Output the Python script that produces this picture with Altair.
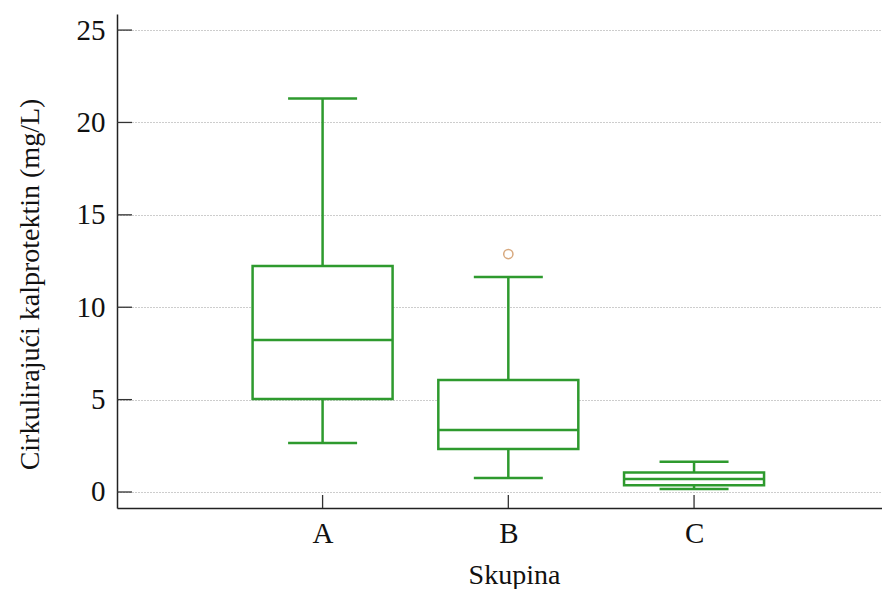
import altair as alt
import pandas as pd

groups = ["A", "B", "C"]
pos = [1, 2, 3]
lower = [2.65, 0.76, 0.16]
q1 = [5.03, 2.33, 0.36]
median = [8.22, 3.35, 0.70]
q3 = [12.23, 6.06, 1.05]
upper = [21.3, 11.63, 1.64]
outlier_group = ["B"]
outlier_pos = [2]
outlier_val = [12.88]
y_ticks = [0, 5, 10, 15, 20, 25]

GREEN = "#2e9a2e"
FONT = "Liberation Serif"
W, H = 765, 494

df = pd.DataFrame({"g": groups, "pos": pos, "lower": lower, "q1": q1,
                   "median": median, "q3": q3, "upper": upper})
out_df = pd.DataFrame({"g": outlier_group, "pos": outlier_pos, "v": outlier_val})
yt_df = pd.DataFrame({"t": y_ticks})

xscale = alt.Scale(domain=[-0.08, 3.985], nice=False, zero=False)
yscale = alt.Scale(domain=[-0.866, 25.87], nice=False, zero=False)

xaxis = alt.Axis(values=pos, labelExpr="datum.value == 1 ? 'A' : datum.value == 2 ? 'B' : 'C'",
                 grid=False, ticks=False, title="Skupina", labelPadding=11, titlePadding=13,
                 titleX=397)
yaxis = alt.Axis(values=y_ticks, grid=True, gridDash=[1, 2], gridColor="#9a9a9a",
                 gridWidth=1, ticks=False, title="Cirkulirajući kalprotektin (mg/L)",
                 labelPadding=12, titlePadding=32, titleY=270)

base = alt.Chart(df)

x_enc = alt.X("pos:Q", scale=xscale, axis=xaxis)

whisk_lo = base.mark_rule(color=GREEN, strokeWidth=2.5).encode(
    x=x_enc, y=alt.Y("lower:Q", scale=yscale, axis=yaxis), y2="q1:Q")
whisk_hi = base.mark_rule(color=GREEN, strokeWidth=2.5).encode(
    x="pos:Q", y="q3:Q", y2="upper:Q")
box = base.mark_bar(size=140, fill="white", stroke=GREEN, strokeWidth=2.5).encode(
    x="pos:Q", y="q1:Q", y2="q3:Q")
med = base.mark_tick(orient="horizontal", size=140, thickness=2.5, color=GREEN, opacity=1).encode(
    x="pos:Q", y="median:Q")
cap_lo = base.mark_tick(orient="horizontal", size=69, thickness=2.5, color=GREEN, opacity=1).encode(
    x="pos:Q", y="lower:Q")
cap_hi = base.mark_tick(orient="horizontal", size=69, thickness=2.5, color=GREEN, opacity=1).encode(
    x="pos:Q", y="upper:Q")
outl = alt.Chart(out_df).mark_point(shape="circle", size=85, filled=False,
                                    stroke="#c8864a", strokeWidth=1.5).encode(
    x="pos:Q", y="v:Q")
ytick = alt.Chart(yt_df).mark_rule(color="#333333", strokeWidth=1.3).encode(
    y="t:Q", x=alt.value(0), x2=alt.value(15))
xtick = alt.Chart(df).mark_rule(color="#333333", strokeWidth=1.3).encode(
    x="pos:Q", y=alt.value(H), y2=alt.value(H - 13))

chart = alt.layer(whisk_lo, whisk_hi, box, med, cap_lo, cap_hi, outl, ytick, xtick).properties(
    width=W, height=H,
    autosize=alt.AutoSizeParams(type="none"),
    padding={"left": 109, "top": 6, "right": 0, "bottom": 81},
).configure_view(stroke=None).configure_axis(
    domainColor="#222222", domainWidth=1.5,
    labelFont=FONT, titleFont=FONT, labelFontSize=29, titleFontSize=28,
    labelColor="#111111", titleColor="#111111", titleFontWeight="normal",
).configure_axisX(labelAngle=0)

chart.save("out.html", embed_options={"renderer": "svg", "actions": False})
